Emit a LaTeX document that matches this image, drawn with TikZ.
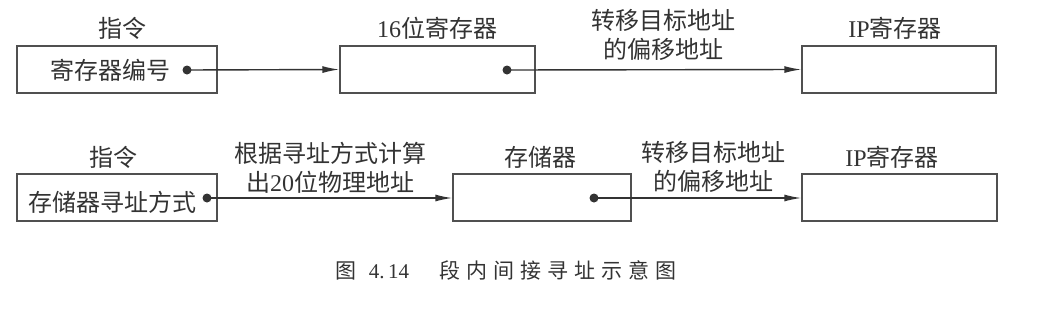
\documentclass[tikz,border=0pt]{standalone}
\usepackage{fontspec}
\setmainfont{Liberation Serif}
\newfontfamily\cjk{Noto Sans CJK SC}
\usetikzlibrary{arrows.meta}
\definecolor{ink}{HTML}{333333}
\definecolor{edge}{HTML}{505050}
\tikzset{
  regbox/.style={draw=edge, line width=1.4pt, minimum height=47pt, inner sep=0pt},
  lbl/.style={text=ink, font=\fontsize{24}{29}\selectfont\cjk, inner sep=0pt, align=center},
  dotnode/.style={circle, fill=ink, inner sep=0pt, minimum size=9pt},
  conn/.style={draw=ink, line width=1.4pt, -{Latex[length=17pt,width=7pt]}},
}
\begin{document}
\begin{tikzpicture}[x=1pt,y=-1pt]
\useasboundingbox (0,0) rectangle (1063,319);
% row 1
\node[regbox, minimum width=200pt] (A) at (117,69.5) {};
\node[regbox, minimum width=195pt] (B) at (437.5,69.5) {};
\node[regbox, minimum width=194pt] (C) at (899,69.5) {};
\node[lbl] (tA) at (122,28) {指令};
\node[lbl] (tB) at (437,28) {{\rmfamily 16}位寄存器};
\node[lbl] (tC) at (895,28) {{\rmfamily IP}寄存器};
\node[lbl] (xA) at (110,70) {寄存器编号};
\node[dotnode] (dA) at (187,70) {};
\node[dotnode] (dB) at (507,70) {};
\draw[conn] (dA.center) -- (A.east -| B.west);
\draw[conn] (dB.center) -- (B.east -| C.west);
\node[lbl] (l1) at (663,35) {转移目标地址\\的偏移地址};
% row 2
\node[regbox, minimum width=200pt] (D) at (117,197.5) {};
\node[regbox, minimum width=178pt] (E) at (542,197.5) {};
\node[regbox, minimum width=195pt] (F) at (899.5,197.5) {};
\node[lbl] (tD) at (113,157) {指令};
\node[lbl] (tE) at (540,157) {存储器};
\node[lbl] (tF) at (892,157) {{\rmfamily IP}寄存器};
\node[lbl] (xD) at (112,202) {存储器寻址方式};
\node[dotnode] (dD) at (207,198) {};
\node[dotnode] (dE) at (594,198) {};
\draw[conn] (dD.center) -- (dD.center -| E.west);
\draw[conn] (dE.center) -- (dE.center -| F.west);
\node[lbl] (l2) at (330,167.5) {根据寻址方式计算\\出{\rmfamily 20}位物理地址};
\node[lbl] (l3) at (713,167) {转移目标地址\\的偏移地址};
% caption
\node[text=ink, inner sep=0pt, font=\fontsize{21}{24}\selectfont] (cap) at (506,270)
  {{\cjk 图}\hspace{12pt}4.\,14\hspace{30pt}{\cjk 段\hspace{6pt}内\hspace{6pt}间\hspace{6pt}接\hspace{6pt}寻\hspace{6pt}址\hspace{6pt}示\hspace{6pt}意\hspace{6pt}图}};
\end{tikzpicture}
\end{document}
